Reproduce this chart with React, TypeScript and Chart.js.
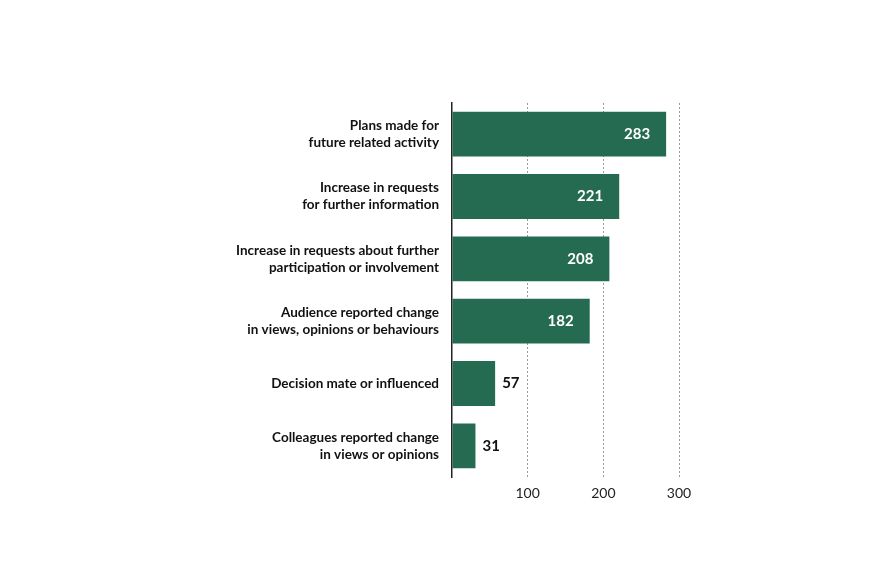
import React, { useEffect, useRef } from "react";
import { Chart, registerables } from "chart.js";

Chart.register(...registerables);

const categories: string[][] = [
  ["Plans made for", "future related activity"],
  ["Increase in requests", "for further information"],
  ["Increase in requests about further", "participation or involvement"],
  ["Audience reported change", "in views, opinions or behaviours"],
  ["Decision mate or influenced"],
  ["Colleagues reported change", "in views or opinions"],
];
const values: number[] = [283, 221, 208, 182, 57, 31];
const xTicks: number[] = [100, 200, 300];

const FONT = "Lato, 'Open Sans', sans-serif";
const BAR = "#256b52";

const valueLabels = {
  id: "valueLabels",
  afterDatasetsDraw(chart: any) {
    const ctx = chart.ctx;
    const meta = chart.getDatasetMeta(0);
    ctx.save();
    ctx.font = `bold 15px ${FONT}`;
    ctx.textBaseline = "middle";
    meta.data.forEach((bar: any, i: number) => {
      const v = values[i];
      const w = bar.x - bar.base;
      if (w > 60) {
        ctx.fillStyle = "#ffffff";
        ctx.textAlign = "right";
        ctx.fillText(String(v), bar.x - 16, bar.y);
      } else {
        ctx.fillStyle = "#111111";
        ctx.textAlign = "left";
        ctx.fillText(String(v), bar.x + 7, bar.y);
      }
    });
    ctx.restore();
  },
};

export default function App() {
  const ref = useRef<HTMLCanvasElement>(null);
  useEffect(() => {
    document.body.style.margin = "0";
    const chart = new Chart(ref.current!, {
      type: "bar",
      data: {
        labels: categories,
        datasets: [
          {
            data: values,
            backgroundColor: BAR,
            borderWidth: 0,
            barPercentage: 0.72,
            categoryPercentage: 1,
          },
        ],
      },
      options: {
        indexAxis: "y",
        animation: false,
        responsive: false,
        maintainAspectRatio: false,
        layout: { padding: { left: 0, right: 201, top: 103, bottom: 0 } },
        plugins: { legend: { display: false }, tooltip: { enabled: false } },
        scales: {
          x: {
            min: 0,
            max: 300,
            afterFit: (s: any) => {
              s.height = 105;
            },
            afterBuildTicks: (s: any) => {
              s.ticks = [0, ...xTicks].map((v) => ({ value: v }));
            },
            border: { display: false, dash: [2, 2] },
            grid: {
              color: (c: any) => (c.tick && c.tick.value === 0 ? "rgba(0,0,0,0)" : "#9a9a9a"),
              lineWidth: 1,
              drawTicks: false,
            },
            ticks: {
              padding: 8,
              color: "#222222",
              font: { family: FONT, size: 14 },
              callback: (v: any) => (Number(v) === 0 ? "" : String(v)),
            },
          },
          y: {
            afterFit: (s: any) => {
              s.width = 452;
            },
            border: { display: true, color: "#222222", width: 1.5 },
            grid: { display: false },
            ticks: {
              padding: 5,
              color: "#111111",
              font: { family: FONT, size: 13.5, weight: "bold", lineHeight: 1.25 },
            },
          },
        },
      },
      plugins: [valueLabels],
    } as any);
    return () => chart.destroy();
  }, []);
  return (
    <div style={{ width: 880, height: 582 }}>
      <canvas ref={ref} width={880} height={582} />
    </div>
  );
}
